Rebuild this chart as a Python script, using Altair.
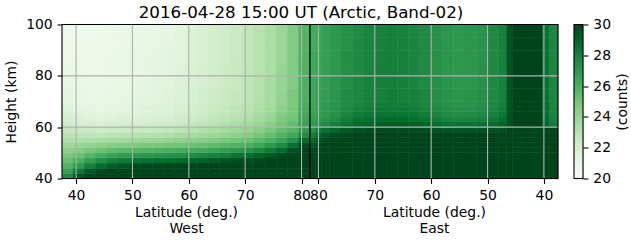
import altair as alt
import pandas as pd

chart_title = "2016-04-28 15:00 UT (Arctic, Band-02)"
y_title = "Height (km)"
west_x_title = ["Latitude (deg.)", "West"]
east_x_title = ["Latitude (deg.)", "East"]
cbar_title = "(counts)"

lat_ticks = [40, 50, 60, 70, 80]
height_ticks = [40, 60, 80, 100]
cbar_ticks = [20, 22, 24, 26, 28, 30]

# ---- West panel: latitude bins (ascending) and height bins ----
west_lat_edges = [37.5, 39.5, 41.5, 43.5, 45.5, 47.5, 49.5, 51.5, 53.5, 55.5, 57.5,
                  59.5, 61.5, 63.5, 65.5, 67.5, 69.5, 71.5, 73.5, 75.5, 77.5, 79.5, 81.5]
west_height_edges = [40, 42, 44, 46, 48, 50, 52, 54, 56, 58, 60, 62, 64, 66, 68, 70,
                     75, 80, 85, 90, 95, 100]
# one vertical profile (bottom -> top) per latitude bin
west_profiles = [
    [27.5, 26.6, 25.9, 25.3, 24.8, 24.3, 23.8, 23.4, 23.0, 22.6, 22.3, 22.0, 21.8, 21.6, 21.4, 21.2, 21.0, 20.8, 20.7, 20.6, 20.5],
    [29.4, 28.2, 27.0, 26.0, 25.2, 24.5, 23.9, 23.3, 22.8, 22.4, 22.0, 21.7, 21.5, 21.3, 21.1, 21.0, 20.9, 20.8, 20.7, 20.6, 20.5],
    [30.0, 29.3, 28.0, 26.8, 25.8, 24.9, 24.1, 23.4, 22.8, 22.3, 21.9, 21.6, 21.4, 21.2, 21.0, 20.9, 20.8, 20.7, 20.6, 20.6, 20.5],
    [30.0, 29.8, 28.7, 27.4, 26.2, 25.2, 24.3, 23.5, 22.8, 22.2, 21.8, 21.5, 21.3, 21.1, 21.0, 20.9, 20.8, 20.7, 20.7, 20.6, 20.6],
    [30.0, 30.0, 29.2, 27.9, 26.6, 25.5, 24.5, 23.6, 22.9, 22.3, 21.9, 21.6, 21.4, 21.2, 21.1, 21.0, 20.9, 20.8, 20.8, 20.7, 20.7],
    [30.0, 30.0, 29.5, 28.2, 26.9, 25.7, 24.6, 23.7, 23.0, 22.4, 22.0, 21.7, 21.5, 21.3, 21.2, 21.1, 21.0, 20.9, 20.9, 20.8, 20.8],
    [30.0, 30.0, 29.7, 28.4, 27.0, 25.8, 24.7, 23.8, 23.0, 22.4, 22.0, 21.7, 21.5, 21.4, 21.3, 21.2, 21.1, 21.0, 21.0, 20.9, 20.9],
    [30.0, 30.0, 29.8, 28.5, 27.1, 25.9, 24.8, 23.9, 23.1, 22.5, 22.1, 21.8, 21.6, 21.5, 21.4, 21.3, 21.2, 21.1, 21.1, 21.0, 21.0],
    [30.0, 30.0, 29.8, 28.6, 27.2, 26.0, 24.9, 24.0, 23.2, 22.6, 22.2, 21.9, 21.7, 21.6, 21.5, 21.4, 21.3, 21.2, 21.2, 21.1, 21.1],
    [30.0, 30.0, 29.9, 28.7, 27.3, 26.1, 25.0, 24.1, 23.3, 22.7, 22.3, 22.0, 21.8, 21.7, 21.6, 21.5, 21.4, 21.3, 21.3, 21.2, 21.2],
    [30.0, 30.0, 29.9, 28.8, 27.4, 26.2, 25.1, 24.2, 23.5, 22.9, 22.5, 22.2, 22.0, 21.9, 21.8, 21.7, 21.6, 21.5, 21.4, 21.4, 21.4],
    [30.0, 30.0, 30.0, 29.0, 27.6, 26.3, 25.2, 24.3, 23.6, 23.0, 22.6, 22.3, 22.1, 22.0, 21.9, 21.8, 21.7, 21.7, 21.6, 21.6, 21.6],
    [30.0, 30.0, 30.0, 29.1, 27.7, 26.4, 25.3, 24.4, 23.7, 23.2, 22.8, 22.5, 22.3, 22.2, 22.1, 22.0, 21.9, 21.9, 21.8, 21.8, 21.8],
    [30.0, 30.0, 30.0, 29.3, 27.9, 26.6, 25.5, 24.6, 23.9, 23.4, 23.0, 22.7, 22.5, 22.4, 22.3, 22.2, 22.1, 22.1, 22.0, 22.0, 22.0],
    [30.0, 30.0, 30.0, 29.5, 28.1, 26.8, 25.7, 24.8, 24.1, 23.6, 23.2, 22.9, 22.7, 22.6, 22.5, 22.4, 22.3, 22.3, 22.2, 22.2, 22.2],
    [30.0, 30.0, 30.0, 29.7, 28.4, 27.1, 25.9, 25.0, 24.3, 23.8, 23.4, 23.1, 22.9, 22.8, 22.7, 22.6, 22.5, 22.5, 22.4, 22.4, 22.4],
    [30.0, 30.0, 30.0, 29.8, 28.6, 27.3, 26.1, 25.2, 24.5, 24.0, 23.6, 23.3, 23.1, 23.0, 22.9, 22.8, 22.8, 22.7, 22.7, 22.7, 22.7],
    [30.0, 30.0, 30.0, 29.9, 29.0, 27.7, 26.5, 25.6, 24.9, 24.4, 24.0, 23.7, 23.5, 23.3, 23.2, 23.1, 23.1, 23.0, 23.0, 23.0, 23.0],
    [30.0, 30.0, 30.0, 30.0, 29.4, 28.2, 27.0, 26.0, 25.3, 24.8, 24.4, 24.1, 23.9, 23.7, 23.6, 23.5, 23.5, 23.4, 23.4, 23.4, 23.4],
    [30.0, 30.0, 30.0, 30.0, 29.8, 28.8, 27.6, 26.6, 25.9, 25.4, 25.0, 24.7, 24.5, 24.3, 24.2, 24.1, 24.0, 24.0, 23.9, 23.9, 23.9],
    [30.0, 30.0, 30.0, 30.0, 30.0, 29.6, 28.5, 27.3, 26.4, 25.8, 25.4, 25.1, 24.9, 24.8, 24.7, 24.7, 24.6, 24.6, 24.6, 24.6, 24.6],
    [30.0, 30.0, 30.0, 30.0, 30.0, 30.0, 29.8, 28.8, 27.6, 26.9, 26.6, 26.4, 26.3, 26.2, 26.1, 26.0, 26.0, 25.9, 25.9, 25.8, 25.8],
]

# ---- East panel: latitude bins (from the pole outwards) and height bins ----
east_lat_edges = [81.5, 80.5, 79.5, 78.0, 76.0, 74.0, 72.0, 70.0, 68.0, 66.0, 64.0, 62.0,
                  60.0, 58.0, 56.0, 54.0, 52.0, 50.0, 48.0, 46.6, 45.6, 43.0, 40.2, 39.0, 37.5]
east_height_edges = [40, 50, 52, 54, 56, 58, 60, 62, 64, 66, 68, 70, 75, 80, 85, 90, 95, 100]
east_profiles = [
    [30.0, 29.8, 29.4, 28.8, 28.0, 27.3, 26.9, 26.7, 26.6, 26.5, 26.5, 26.4, 26.4, 26.3, 26.3, 26.2, 26.2],
    [30.0, 30.0, 29.8, 29.4, 28.8, 28.0, 27.2, 26.9, 26.8, 26.7, 26.7, 26.6, 26.6, 26.5, 26.5, 26.4, 26.4],
    [30.0, 30.0, 30.0, 29.8, 29.4, 28.6, 27.6, 27.2, 27.0, 26.9, 26.9, 26.8, 26.8, 26.8, 26.7, 26.7, 26.7],
    [30.0, 30.0, 30.0, 30.0, 29.7, 29.0, 28.0, 27.5, 27.3, 27.2, 27.2, 27.1, 27.1, 27.0, 27.0, 27.0, 27.0],
    [30.0, 30.0, 30.0, 30.0, 29.9, 29.4, 28.4, 28.0, 27.8, 27.6, 27.5, 27.5, 27.4, 27.4, 27.4, 27.3, 27.3],
    [30.0, 30.0, 30.0, 30.0, 30.0, 29.6, 28.8, 28.4, 28.1, 27.9, 27.8, 27.7, 27.7, 27.6, 27.6, 27.6, 27.5],
    [30.0, 30.0, 30.0, 30.0, 30.0, 29.7, 29.0, 28.6, 28.3, 28.1, 28.0, 27.9, 27.9, 27.8, 27.8, 27.8, 27.8],
    [30.0, 30.0, 30.0, 30.0, 30.0, 29.8, 29.2, 28.7, 28.4, 28.2, 28.1, 28.0, 28.0, 28.0, 27.9, 27.9, 27.9],
    [30.0, 30.0, 30.0, 30.0, 30.0, 29.8, 29.3, 28.8, 28.4, 28.2, 28.1, 28.1, 28.0, 28.0, 28.0, 28.0, 28.0],
    [30.0, 30.0, 30.0, 30.0, 30.0, 29.8, 29.3, 28.8, 28.4, 28.2, 28.1, 28.0, 28.0, 27.9, 27.9, 27.9, 27.9],
    [30.0, 30.0, 30.0, 30.0, 30.0, 29.8, 29.2, 28.6, 28.3, 28.1, 28.0, 27.9, 27.8, 27.8, 27.8, 27.8, 27.7],
    [30.0, 30.0, 30.0, 30.0, 30.0, 29.7, 29.0, 28.4, 28.1, 27.9, 27.8, 27.7, 27.6, 27.6, 27.6, 27.6, 27.5],
    [30.0, 30.0, 30.0, 30.0, 30.0, 29.6, 28.7, 28.1, 27.8, 27.6, 27.5, 27.4, 27.4, 27.3, 27.3, 27.3, 27.3],
    [30.0, 30.0, 30.0, 30.0, 30.0, 29.5, 28.5, 27.9, 27.6, 27.4, 27.3, 27.2, 27.2, 27.1, 27.1, 27.1, 27.1],
    [30.0, 30.0, 30.0, 30.0, 30.0, 29.5, 28.4, 27.8, 27.5, 27.3, 27.2, 27.1, 27.1, 27.0, 27.0, 27.0, 27.0],
    [30.0, 30.0, 30.0, 30.0, 30.0, 29.5, 28.4, 27.8, 27.5, 27.3, 27.2, 27.2, 27.1, 27.1, 27.1, 27.1, 27.1],
    [30.0, 30.0, 30.0, 30.0, 30.0, 29.5, 28.5, 27.9, 27.6, 27.5, 27.4, 27.3, 27.3, 27.3, 27.2, 27.2, 27.2],
    [30.0, 30.0, 30.0, 30.0, 30.0, 29.6, 28.7, 28.2, 27.9, 27.8, 27.7, 27.6, 27.6, 27.6, 27.6, 27.6, 27.6],
    [30.0, 30.0, 30.0, 30.0, 30.0, 29.7, 29.0, 28.6, 28.3, 28.1, 28.0, 27.9, 27.9, 27.9, 27.9, 27.9, 27.9],
    [30.0, 30.0, 30.0, 30.0, 30.0, 30.0, 29.6, 29.5, 29.5, 29.5, 29.5, 29.5, 29.5, 29.5, 29.5, 29.5, 29.5],
    [30.0, 30.0, 30.0, 30.0, 30.0, 30.0, 30.0, 30.0, 30.0, 30.0, 30.0, 30.0, 30.0, 30.0, 30.0, 30.0, 30.0],
    [30.0, 30.0, 30.0, 30.0, 30.0, 30.0, 30.0, 30.0, 30.0, 30.0, 30.0, 30.0, 30.0, 30.0, 30.0, 30.0, 30.0],
    [30.0, 30.0, 30.0, 30.0, 30.0, 30.0, 29.0, 28.7, 28.6, 28.6, 28.6, 28.5, 28.5, 28.5, 28.5, 28.5, 28.5],
    [30.0, 30.0, 30.0, 30.0, 30.0, 30.0, 28.2, 27.9, 27.8, 27.8, 27.8, 27.7, 27.7, 27.7, 27.7, 27.7, 27.7],
]

# Greens colour map, anchored on the 20..30 colour bar
cmap_values = [20.0, 21.25, 22.5, 23.75, 25.0, 26.25, 27.5, 28.75, 30.0]
cmap_colors = ["#f7fcf5", "#e5f5e0", "#c7e9c0", "#a1d99b", "#74c476",
               "#41ab5d", "#238b45", "#006d2c", "#00441b"]


def cells(lat_edges, h_edges, profiles):
    rows = []
    for i, prof in enumerate(profiles):
        for j, v in enumerate(prof):
            rows.append({"lat0": lat_edges[i], "lat1": lat_edges[i + 1],
                         "h0": h_edges[j], "h1": h_edges[j + 1], "counts": v})
    return pd.DataFrame(rows)


west_df = cells(west_lat_edges, west_height_edges, west_profiles)
east_df = cells(east_lat_edges, east_height_edges, east_profiles)

FONT = "DejaVu Sans"
FS = 13.9
GRID = "#b0b0b0"
LW = 1.1
color_scale = alt.Scale(domain=cmap_values, range=cmap_colors, interpolate="rgb")
y_scale = alt.Scale(domain=[40, 100], nice=False, zero=False)

axis_style = dict(grid=False, tickColor="black", tickSize=4.9, tickWidth=LW,
                  domain=False, labelFont=FONT, labelFontSize=FS,
                  labelColor="black", titleFont=FONT, titleFontSize=FS,
                  titleFontWeight="normal", titleColor="black", labelPadding=4.9)

PW, PH = 248, 154


def panel(df, reverse, x_title, show_y):
    xs = alt.Scale(domain=[37.5, 81.5], nice=False, zero=False, reverse=reverse)
    x_axis = alt.Axis(values=lat_ticks, title=x_title, titlePadding=3,
                      titleLineHeight=16.7, labelFlush=False, **axis_style)
    if show_y:
        y_axis = alt.Axis(values=height_ticks, title=y_title, titlePadding=7,
                          **axis_style)
    else:
        y_axis = None
    heat = alt.Chart(df).mark_rect(strokeWidth=0.6, clip=True).encode(
        x=alt.X("lat0:Q", scale=xs, axis=x_axis),
        x2="lat1",
        y=alt.Y("h0:Q", scale=y_scale, axis=y_axis),
        y2="h1",
        color=alt.Color("counts:Q", scale=color_scale, legend=None),
        stroke=alt.Stroke("counts:Q", scale=color_scale, legend=None),
    )
    vgrid = alt.Chart(pd.DataFrame({"lat0": lat_ticks})).mark_rule(
        color=GRID, strokeWidth=LW).encode(x="lat0:Q")
    hgrid = alt.Chart(pd.DataFrame({"h0": height_ticks})).mark_rule(
        color=GRID, strokeWidth=LW).encode(y="h0:Q")
    frame = alt.Chart(pd.DataFrame({"k": [0]})).mark_rect(
        filled=False, stroke="black", strokeWidth=LW).encode(
        x=alt.value(0), x2=alt.value(PW), y=alt.value(0), y2=alt.value(PH))
    return alt.layer(heat, vgrid, hgrid, frame).properties(width=PW, height=PH)


west = panel(west_df, False, west_x_title, True)
east = panel(east_df, True, east_x_title, False)

cbar_df = pd.DataFrame({"lo": [20], "hi": [30]})
grad = {"gradient": "linear", "x1": 0, "y1": 1, "x2": 0, "y2": 0,
        "stops": [{"offset": (v - 20) / 10, "color": c}
                  for v, c in zip(cmap_values, cmap_colors)]}
CBW = 9
cbar = alt.Chart(cbar_df).mark_rect(fill=grad, stroke="black", strokeWidth=LW).encode(
    y=alt.Y("lo:Q", scale=alt.Scale(domain=[20, 30], nice=False, zero=False),
            axis=alt.Axis(orient="right", values=cbar_ticks, title=cbar_title,
                          titleAngle=270, titleBaseline="top", titlePadding=5,
                          **axis_style)),
    y2="hi",
    x=alt.value(0),
    x2=alt.value(CBW),
).properties(width=CBW, height=PH)

main = alt.hconcat(west, east, spacing=0, bounds="flush").resolve_scale(x="independent")
chart = alt.hconcat(main, cbar, spacing=12).resolve_scale(
    y="independent", color="independent", stroke="independent"
).properties(
    title=alt.TitleParams(chart_title, font=FONT, fontSize=16.7,
                          fontWeight="normal", color="black", anchor="middle",
                          offset=-4.5, dx=-16),
    padding={"left": 4, "top": 4.5, "right": 0, "bottom": 0},
).configure_view(stroke="transparent").configure(background="white")

chart.save("out.html", embed_options={"renderer": "svg", "actions": False})
